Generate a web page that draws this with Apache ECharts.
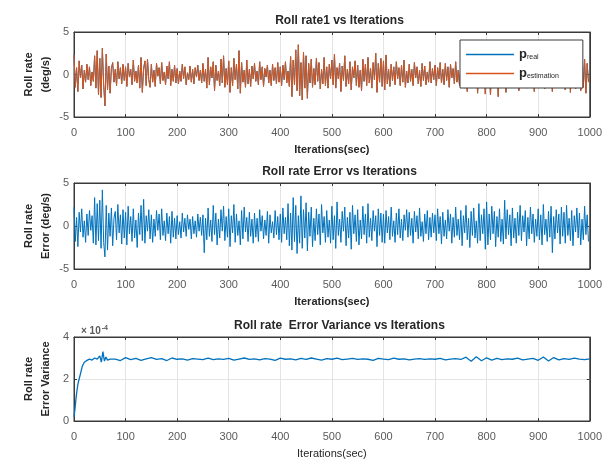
<!DOCTYPE html>
<html>
<head>
<meta charset="utf-8">
<title>Roll rate</title>
<script src="https://cdn.jsdelivr.net/npm/echarts@6/dist/echarts.min.js"></script>
<style>
  html, body { margin: 0; padding: 0; background: #fff; }
  #chart { width: 605px; height: 461px; }
</style>
</head>
<body>
<div id="chart"></div>
<script>
// ============================================
// data read from the picture (sampled every 2.5 iterations)
// ============================================
const iterStep = 2.5

// roll rate estimation (deg/s), one row = 50 iterations
const pEst = [
  2.3, -1.5, 0.8, -2.0, 1.6, -0.4, 1.1, -1.7, 0.5, -0.9, 1.2, -0.6, 0.9, -1.3, 0.3, -0.8, 2.2, -1.6, 2.8, -2.4,
  1.9, -2.7, 3.1, -1.2, -3.7, 2.4, -1.8, 1.0, -2.2, 0.7, 1.4, -0.9, 0.6, -1.3, 1.5, -0.5, 0.8, -1.1, 1.2, -0.7,
  0.9, -1.4, 1.3, -0.3, 0.6, -1.2, 1.7, -0.8, 0.4, -1.0, 1.1, -1.6, 2.0, -2.1, 0.7, 1.6, -1.3, 1.8, -0.6, -1.5,
  1.2, -0.9, 0.5, -1.4, 1.3, -0.2, 0.8, -1.1, 1.4, -0.7, 0.3, -1.2, 1.0, -0.5, 1.5, -1.3, 0.6, -0.8, 1.1, -1.0,
  0.7, -1.1, 0.4, -0.8, 1.2, -0.5, 0.9, -1.2, 0.2, -0.6, 1.0, -0.9, 0.6, -1.1, 0.8, -0.3, 1.1, -0.7, 0.5, -1.0,
  1.3, -0.8, 0.6, -1.6, 2.0, -1.2, 0.9, -0.4, 1.5, -1.9, 1.1, -0.7, 0.4, -1.3, 1.8, -1.0, 2.2, -1.5, 0.7, -1.2,
  1.6, -2.1, 0.8, -1.3, 1.9, -0.6, 1.2, -1.7, 2.8, -2.2, 1.4, -0.9, 0.5, -1.5, 1.7, -1.1, 0.6, -1.4, 1.0, -0.5,
  1.3, -0.8, 0.4, -1.2, 1.5, -0.6, 0.9, -1.4, 0.7, -0.3, 1.1, -1.0, 0.5, -1.3, 1.2, -0.7, 0.8, -1.1, 1.4, -0.9,
  0.9, -1.3, 1.1, -0.6, 1.5, -1.0, 0.4, -1.4, 2.1, -2.6, 1.7, -1.2, 2.9, -1.9, 3.5, -2.5, 1.4, -3.0, 2.6, -1.6,
  2.2, -2.8, 1.3, -1.0, 1.8, -1.5, 0.7, -1.2, 1.9, -0.8, 1.4, -1.7, 0.6, -1.1, 2.0, -1.3, 0.9, -1.6, 1.2, -0.5,
  1.7, -1.2, 2.4, -1.6, 0.8, -0.5, 1.3, -2.0, 1.0, -0.7, 2.2, -1.4, 0.6, -1.1, 1.5, -1.8, 0.9, -0.4, 1.6, -1.3,
  1.1, -1.5, 0.5, -1.9, 1.8, -0.8, 1.2, -1.3, 2.0, -1.0, 0.7, -1.6, 1.4, -0.6, 2.5, -2.1, 1.3, -0.9, 1.9, -1.4,
  1.6, -1.8, 2.3, -1.1, 0.6, -1.4, 1.2, -0.7, 0.9, -1.2, 1.5, -0.5, 0.8, -1.3, 1.1, -0.9, 1.7, -1.5, 0.4, -1.0,
  1.2, -0.8, 0.6, -1.3, 1.4, -0.4, 0.9, -1.1, 0.5, -1.4, 1.3, -0.7, 1.0, -1.2, 0.3, -0.9, 1.5, -1.0, 0.7, -0.6,
  1.1, -1.3, 0.8, -0.5, 1.4, -1.0, 0.6, -1.2, 1.3, -0.7, 0.9, -1.5, 1.2, -0.4, 0.7, -1.1, 1.5, -0.9, 0.5, -1.3,
  1.0, -0.6, 1.3, -1.6, 0.8, -2.0, 1.2, -0.9, 0.4, -1.4, 1.1, -0.7, 1.5, -2.2, 0.6, -1.1, 1.2, -0.5, 0.9, -2.3,
  1.3, -1.0, 0.7, -2.4, 1.1, -0.6, 0.5, -1.3, 1.4, -2.6, 0.9, -0.8, 1.2, -1.5, 0.6, -2.1, 1.0, -0.7, 1.3, -1.2,
  0.8, -1.4, 1.2, -0.5, 1.5, -1.9, 0.6, -1.1, 1.0, -0.7, 1.3, -1.6, 0.4, -1.0, 1.4, -0.8, 0.9, -2.0, 1.1, -1.3,
  1.5, -1.2, 1.8, -0.6, 1.0, -1.7, 2.0, -1.3, 0.7, -1.0, 1.6, -2.0, 1.2, -0.8, 0.9, -1.5, 1.9, -1.1, 0.5, -1.4,
  1.4, -1.8, 2.2, -1.0, 0.8, -2.1, 1.6, -1.3, 2.5, -1.7, 1.1, -0.6, 2.3, -1.9, 1.0, -1.5, 1.8, -2.2, 1.3, -0.9
]
// roll rate real (deg/s): hidden under the estimation curve everywhere
const pReal = pEst.slice()

// roll rate error (deg/s), one row = 50 iterations
const rateErr = [
  2.2, -1.8, 1.0, -2.4, 1.6, -0.7, 2.0, -1.3, 0.6, -1.9, 1.4, -1.1, 1.8, -0.5, 1.2, -2.0, 3.3, -2.2, 2.6, -1.7,
  3.0, -2.6, 4.2, -1.9, -3.6, 2.4, -2.8, 1.5, -1.2, 2.1, -2.3, 0.9, 1.7, -1.6, 2.5, -0.8, 1.3, -2.1, 1.9, -1.4,
  1.6, -2.2, 2.3, -0.9, 1.1, -1.8, 2.0, -1.4, 0.7, -2.5, 1.5, -1.0, 2.4, -1.7, 3.1, -2.0, 1.2, -0.6, 1.9, -1.5,
  1.3, -1.9, 0.8, -1.2, 1.8, -0.5, 1.4, -1.6, 2.0, -1.1, 0.6, -1.7, 1.5, -0.9, 1.1, -2.0, 1.7, -1.3, 0.9, -1.5,
  1.2, -1.0, 0.5, -1.4, 1.5, -0.7, 0.9, -1.2, 1.3, -0.4, 0.8, -1.5, 1.1, -0.9, 0.6, -1.3, 1.4, -0.6, 1.0, -1.1,
  1.3, -3.1, 0.9, -1.6, 2.1, -1.2, 0.7, -1.8, 2.4, -1.0, 1.5, -2.2, 0.8, -1.4, 1.9, -0.6, 2.3, -1.7, 1.1, -1.3,
  2.0, -2.4, 1.2, -0.8, 2.5, -1.9, 1.4, -1.1, 0.6, -2.2, 1.8, -1.5, 2.2, -0.7, 1.0, -1.8, 1.6, -1.2, 0.8, -2.0,
  1.5, -1.3, 0.9, -1.8, 1.9, -0.6, 1.2, -1.5, 0.7, -1.1, 1.7, -2.0, 1.3, -0.8, 0.5, -1.4, 1.8, -1.0, 1.1, -1.6,
  1.4, -1.9, 2.1, -0.9, 1.0, -1.6, 2.6, -2.3, 1.5, -2.8, 3.3, -1.8, 2.4, -3.2, 1.2, -2.0, 3.5, -2.6, 1.9, -1.4,
  2.7, -2.9, 1.6, -1.2, 2.2, -2.4, 0.9, -1.7, 2.0, -1.0, 1.4, -2.2, 2.5, -0.8, 1.1, -1.9, 1.8, -1.3, 0.7, -2.0,
  2.3, -1.6, 1.2, -2.6, 2.8, -1.1, 0.8, -1.9, 1.7, -0.6, 2.2, -2.3, 1.0, -1.4, 1.6, -2.7, 2.4, -0.9, 1.3, -1.8,
  1.9, -2.2, 0.7, -1.5, 2.3, -1.0, 1.4, -2.0, 2.6, -1.3, 0.9, -1.7, 1.8, -0.6, 1.2, -2.4, 2.0, -1.1, 1.5, -1.9,
  1.4, -2.0, 1.8, -0.8, 1.1, -1.6, 2.2, -1.2, 0.6, -1.9, 1.5, -1.0, 2.0, -1.4, 0.8, -1.7, 1.3, -0.5, 1.9, -1.3,
  1.6, -1.1, 0.9, -2.0, 1.7, -0.7, 1.2, -1.5, 2.1, -1.2, 0.5, -1.8, 1.4, -0.9, 1.8, -1.6, 1.0, -1.3, 1.5, -0.8,
  1.3, -1.7, 2.0, -0.9, 1.1, -2.1, 1.6, -1.2, 0.7, -1.5, 1.9, -0.6, 1.4, -2.0, 1.0, -1.3, 2.2, -1.1, 0.8, -1.6,
  1.8, -2.3, 1.2, -0.8, 2.4, -1.6, 0.9, -2.5, 1.7, -1.1, 2.1, -1.4, 0.6, -2.0, 2.6, -1.7, 1.3, -0.9, 2.0, -2.7,
  2.8, -2.2, 1.4, -1.6, 2.3, -0.9, 1.7, -2.4, 1.1, -1.3, 2.0, -1.8, 0.8, -2.1, 3.0, -1.5, 1.9, -1.0, 1.3, -2.3,
  2.1, -1.4, 0.9, -2.0, 1.6, -1.1, 2.4, -1.7, 1.2, -0.7, 1.8, -2.3, 1.0, -1.5, 2.2, -0.9, 1.4, -1.9, 0.8, -1.2,
  2.0, -1.6, 1.3, -2.2, 2.5, -1.0, 0.8, -1.8, 1.7, -1.3, 2.3, -3.1, 1.1, -1.5, 1.9, -0.8, 1.4, -2.1, 2.2, -1.2,
  1.6, -2.0, 2.4, -1.1, 0.9, -1.7, 1.8, -2.3, 1.2, -0.7, 2.1, -1.4, 1.5, -2.2, 0.8, -1.6, 2.3, -1.0, 1.3, -1.8
]

// error variance (x 1e-4): start-up ramp, then every 10 iterations from 80
const varHeadIter = [0, 2, 4, 6, 8, 10, 12, 14, 16, 18, 20, 23, 26, 30, 35, 40, 45, 50, 53, 56, 59, 62, 65, 70]
const varHeadVal = [0.2, 0.6, 1.1, 1.5, 1.8, 2.0, 2.2, 2.4, 2.6, 2.7, 2.8, 2.85, 2.9, 2.95, 2.9, 3.0, 2.95, 3.1, 2.8, 3.3, 2.85, 3.05, 2.9, 2.95]
const varTailStart = 80
const varTailStep = 10
const varTailVal = [
  2.95, 2.88, 3.02, 2.92, 2.98, 2.89, 2.96, 3.02, 2.93, 2.97,
  2.88, 3.0, 2.94, 2.96, 2.9, 2.97, 2.95, 2.92, 2.99, 2.92,
  2.96, 2.93, 2.98, 2.9, 2.95, 3.0, 2.93, 2.96, 2.91, 2.97,
  2.95, 2.89, 2.99, 2.94, 2.96, 2.91, 2.98, 2.93, 3.0, 2.95,
  2.9, 2.97, 2.94, 2.99, 2.92, 2.95, 2.98, 2.93, 2.96, 2.94,
  2.89, 2.98, 2.95, 2.92, 2.99, 2.94, 2.96, 2.91, 2.95, 2.97,
  2.93, 2.96, 2.94, 2.98, 2.91, 2.95, 2.97, 2.93, 3.04, 2.85,
  3.06, 2.87, 3.01, 2.9, 2.98, 2.92, 2.96, 2.94, 2.99, 2.91,
  2.95, 2.98, 2.89, 3.05, 2.86, 3.02, 2.91, 2.97, 2.93, 2.99,
  2.95, 2.92, 2.96
]

// axis ticks
const xTicks = { min: 0, max: 1000, interval: 100 }
const rateTicks = { min: -5, max: 5, interval: 5 }
const varTicks = { min: 0, max: 4, interval: 2 }

const titles = ['Roll rate1 vs Iterations', 'Roll rate Error vs Iterations', 'Roll rate  Error Variance vs Iterations']
const yNames = ['Roll rate\n(deg/s)', 'Roll rate\nError (deg/s)', 'Roll rate\nError Variance']
const xName = 'Iterations(sec)'

// ============================================
// colours
// ============================================
const colorTheme = {
  blue: '#0072BD',
  orange: '#D95319',
  axis: '#3a3a3a',
  text: '#262626',
  tick: '#5a5a5a',
  grid: '#e4e4e4'
}
const font = "'Liberation Sans', Arial, sans-serif"

// ============================================
// build series data
// ============================================
const toPairs = arr => arr.map((v, i) => [i * iterStep, v])
const varData = varHeadIter.map((x, i) => [x, varHeadVal[i]])
  .concat(varTailVal.map((v, i) => [varTailStart + i * varTailStep, v]))

// ============================================
// layout of the three panels
// ============================================
const panels = [
  { top: 32, height: 85, y: rateTicks, boldX: true },
  { top: 183, height: 86, y: rateTicks, boldX: true },
  { top: 337, height: 84, y: varTicks, boldX: false }
]
const gridLeft = 74
const gridWidth = 521

const grids = panels.map(p => ({
  left: gridLeft, top: p.top, width: gridWidth, height: p.height,
  show: true, borderColor: colorTheme.axis, borderWidth: 1, backgroundColor: '#fff'
}))

const boxLine = { show: true, onZero: false, lineStyle: { color: colorTheme.axis } }
const boxTick = { show: true, inside: true, length: 3, lineStyle: { color: colorTheme.axis } }

const xAxes = []
const yAxes = []
panels.forEach((p, i) => {
  // bottom axis with labels
  xAxes.push({
    type: 'value', gridIndex: i, ...xTicks,
    name: xName, nameLocation: 'middle', nameGap: 27,
    nameTextStyle: { fontFamily: font, fontSize: 11, color: colorTheme.text, fontWeight: p.boldX ? 'bold' : 'normal' },
    axisLine: boxLine,
    axisTick: boxTick,
    axisLabel: { fontFamily: font, fontSize: 11, color: colorTheme.tick, margin: 10, formatter: v => String(v) },
    splitLine: { show: true, lineStyle: { color: colorTheme.grid } }
  })
  // top axis, ticks only (box style)
  xAxes.push({
    type: 'value', gridIndex: i, position: 'top', ...xTicks,
    axisLine: boxLine, axisTick: boxTick,
    axisLabel: { show: false },
    splitLine: { show: false }
  })
  yAxes.push({
    type: 'value', gridIndex: i, ...p.y,
    name: yNames[i], nameLocation: 'middle', nameGap: 20, nameRotate: 90,
    nameMoveOverlap: false,
    nameTextStyle: { fontFamily: font, fontSize: 11, color: colorTheme.text, fontWeight: 'bold', lineHeight: 17 },
    axisLine: boxLine,
    axisTick: boxTick,
    axisLabel: { fontFamily: font, fontSize: 11, color: colorTheme.tick, margin: 5 },
    splitLine: { show: true, lineStyle: { color: colorTheme.grid } }
  })
  yAxes.push({
    type: 'value', gridIndex: i, position: 'right', ...p.y,
    axisLine: boxLine, axisTick: boxTick,
    axisLabel: { show: false },
    splitLine: { show: false }
  })
})

const lineSeries = (name, data, panel, color, width) => ({
  name, type: 'line', data,
  xAxisIndex: panel * 2, yAxisIndex: panel * 2,
  symbol: 'none', animation: false,
  lineStyle: { color, width },
  itemStyle: { color }
})

const titleList = panels.map((p, i) => ({
  text: titles[i], left: gridLeft + gridWidth / 2, top: p.top - 22, textAlign: 'center',
  textStyle: { fontFamily: font, fontSize: 12, fontWeight: 'bold', color: colorTheme.text }
}))
// exponent of the variance axis
titleList.push({
  text: '{m|\u00d7 10}{e|-4}', left: 76, top: 320,
  textStyle: {
    rich: {
      m: { fontFamily: font, fontSize: 10, color: colorTheme.tick },
      e: { fontFamily: font, fontSize: 7, color: colorTheme.tick, padding: [0, 0, 6, 1] }
    }
  }
})

const chart = echarts.init(document.getElementById('chart'), null, { renderer: 'canvas' })
chart.setOption({
  animation: false,
  title: titleList,
  grid: grids,
  xAxis: xAxes,
  yAxis: yAxes,
  legend: {
    data: ['p_real', 'p_estimation'],
    orient: 'vertical',
    left: 460, top: 40,
    padding: [8, 24, 8, 6],
    icon: 'rect',
    itemWidth: 48, itemHeight: 1.5, itemGap: 6,
    backgroundColor: '#fff', borderColor: colorTheme.axis, borderWidth: 1,
    formatter: name => name === 'p_real' ? '{p|p}{s|real}' : '{p|p}{s|estimation}',
    textStyle: {
      rich: {
        p: { fontFamily: font, fontSize: 13, fontWeight: 'bold', color: colorTheme.text, height: 16 },
        s: { fontFamily: font, fontSize: 7, color: colorTheme.text, padding: [6, 0, 0, 0] }
      }
    }
  },
  series: [
    lineSeries('p_real', toPairs(pReal), 0, colorTheme.blue, 1),
    lineSeries('p_estimation', toPairs(pEst), 0, colorTheme.orange, 1),
    lineSeries('error', toPairs(rateErr), 1, colorTheme.blue, 1),
    lineSeries('variance', varData, 2, colorTheme.blue, 1.3)
  ]
})
</script>
</body>
</html>
